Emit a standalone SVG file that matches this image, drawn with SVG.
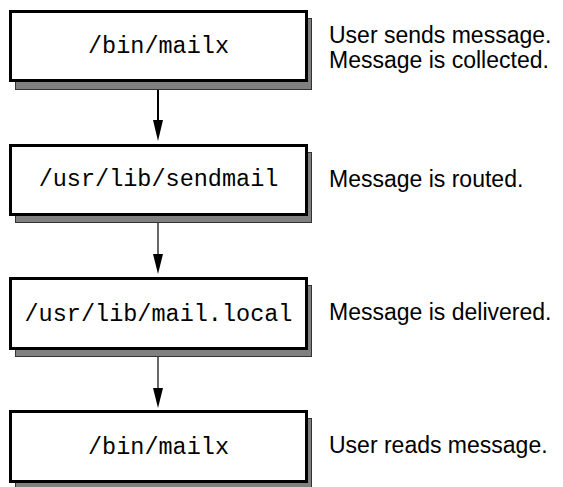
<svg xmlns="http://www.w3.org/2000/svg" width="563" height="487" viewBox="0 0 563 487">
<style>
.bg{fill:#fff}
.shadow{fill:#808080;stroke:#333;stroke-width:1}
.box{fill:#fff;stroke:#000;stroke-width:3}
.mono{font-family:"Liberation Mono","Courier New",monospace;font-size:23.5px;fill:#000;text-anchor:middle}
.note{font-family:"Liberation Sans",Arial,Helvetica,sans-serif;font-size:23px;fill:#000}
.line{stroke:#000;fill:none}
.head{fill:#000}
</style>
<rect class="bg" x="0" y="0" width="563" height="487"/>
<g id="connectors">
  <line class="line" x1="158" y1="82" x2="158" y2="124" stroke-width="2"/>
  <polygon class="head" points="153,120 163,120 158,141"/>
  <line class="line" x1="158" y1="216" x2="158" y2="258" stroke-width="1.2"/>
  <polygon class="head" points="153,254 163,254 158,274"/>
  <line class="line" x1="158" y1="350" x2="158" y2="392" stroke-width="1.2"/>
  <polygon class="head" points="153,388 163,388 158,408"/>
</g>
<g id="node1">
  <rect class="shadow" x="15.5" y="18.5" width="296" height="71"/>
  <rect class="box" x="10.5" y="11.5" width="296" height="69"/>
  <text class="mono" x="158.5" y="53">/bin/mailx</text>
</g>
<g id="note1">
  <text class="note" x="329" y="43">User sends message.</text>
  <text class="note" x="329" y="68">Message is collected.</text>
</g>
<g id="node2">
  <rect class="shadow" x="15.5" y="152.5" width="296" height="70"/>
  <rect class="box" x="10.5" y="145.5" width="296" height="69"/>
  <text class="mono" x="158.5" y="186">/usr/lib/sendmail</text>
</g>
<g id="note2">
  <text class="note" x="329" y="187">Message is routed.</text>
</g>
<g id="node3">
  <rect class="shadow" x="15.5" y="285.5" width="296" height="71"/>
  <rect class="box" x="10.5" y="278.5" width="296" height="70"/>
  <text class="mono" x="158.5" y="321">/usr/lib/mail.local</text>
</g>
<g id="note3">
  <text class="note" x="329" y="320">Message is delivered.</text>
</g>
<g id="node4">
  <rect class="shadow" x="15.5" y="418.5" width="296" height="72"/>
  <rect class="box" x="10.5" y="411.5" width="296" height="70"/>
  <text class="mono" x="158.5" y="454">/bin/mailx</text>
</g>
<g id="note4">
  <text class="note" x="329" y="453">User reads message.</text>
</g>
</svg>
